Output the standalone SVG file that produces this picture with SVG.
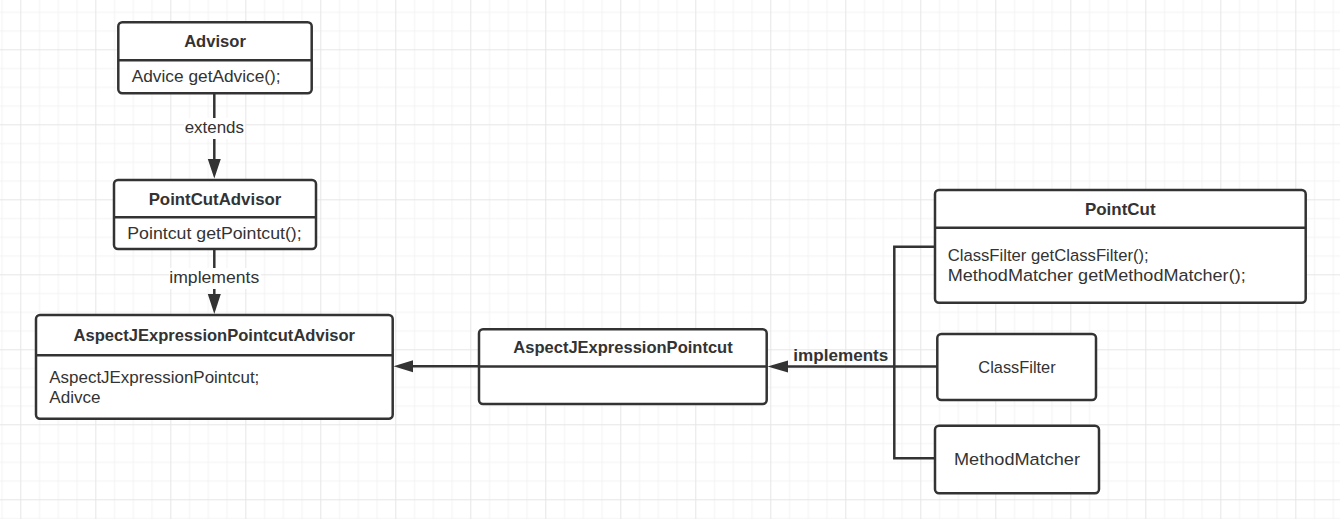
<svg xmlns="http://www.w3.org/2000/svg" width="1340" height="519" viewBox="0 0 1340 519">
<defs>
<pattern id="grid" patternUnits="userSpaceOnUse" width="75" height="75" patternTransform="translate(20.3,49.3)">
<rect x="0" y="0" width="75" height="75" fill="#ffffff"/>
<rect x="18.75" y="0" width="1" height="75" fill="#f3f3f3"/>
<rect x="37.5" y="0" width="1" height="75" fill="#f3f3f3"/>
<rect x="56.25" y="0" width="1" height="75" fill="#f3f3f3"/>
<rect x="0" y="18.75" width="75" height="1" fill="#f3f3f3"/>
<rect x="0" y="37.5" width="75" height="1" fill="#f3f3f3"/>
<rect x="0" y="56.25" width="75" height="1" fill="#f3f3f3"/>
<rect x="0" y="0" width="1" height="75" fill="#e6e6e6"/>
<rect x="0" y="0" width="75" height="1" fill="#e6e6e6"/>
</pattern>
</defs>
<style>
.box{fill:#ffffff;stroke:#333333;stroke-width:2.5}
.div{stroke:#333333;stroke-width:2.5;fill:none}
.title{font-family:"Liberation Sans",Arial,sans-serif;font-weight:bold;font-size:16.7px;fill:#333333;text-anchor:middle}
.body{font-family:"Liberation Sans",Arial,sans-serif;font-size:17.2px;fill:#333333}
.mid{text-anchor:middle}
.edge{stroke:#333333;stroke-width:2.5;fill:none}
.head{fill:#333333;stroke:none}
.lbl{font-family:"Liberation Sans",Arial,sans-serif;font-size:17px;fill:#333333;text-anchor:middle}
.lblb{font-family:"Liberation Sans",Arial,sans-serif;font-size:17px;font-weight:bold;fill:#333333}
</style>
<rect x="0" y="0" width="1340" height="519" fill="url(#grid)"/>

<g id="connectors">
<line class="edge" x1="214.3" y1="93.3" x2="214.3" y2="160"/>
<polygon class="head" points="214.3,178.5 207.8,159 220.8,159"/>
<rect x="184" y="118" width="61" height="21" fill="#ffffff"/>
<text class="lbl" x="214.3" y="133.3" textLength="59.3" lengthAdjust="spacingAndGlyphs">extends</text>

<line class="edge" x1="214.3" y1="249" x2="214.3" y2="295"/>
<polygon class="head" points="214.3,314 207.8,294 220.8,294"/>
<rect x="169" y="268" width="92" height="21" fill="#ffffff"/>
<text class="lbl" x="214.3" y="283.3" textLength="90" lengthAdjust="spacingAndGlyphs">implements</text>

<line class="edge" x1="479" y1="366.3" x2="412" y2="366.3"/>
<polygon class="head" points="393.5,366.3 413,360.3 413,372.3"/>

<line class="edge" x1="937" y1="366.5" x2="787" y2="366.5"/>
<polygon class="head" points="767.5,366.5 788,360.5 788,372.5"/>
<polyline class="edge" points="935,246.7 894.3,246.7 894.3,458.3 935,458.3"/>
<text class="lblb" x="793.3" y="361" textLength="95" lengthAdjust="spacingAndGlyphs">implements</text>
</g>

<g id="advisor">
<rect class="box" x="118.3" y="22.3" width="193.4" height="71" rx="4"/>
<line class="div" x1="118.3" y1="60.3" x2="311.7" y2="60.3"/>
<text class="title" x="215" y="47" textLength="61.7" lengthAdjust="spacingAndGlyphs">Advisor</text>
<text class="body" x="131.7" y="82.3" textLength="149" lengthAdjust="spacingAndGlyphs">Advice getAdvice();</text>
</g>

<g id="pointcutadvisor">
<rect class="box" x="114" y="180" width="202" height="69" rx="4"/>
<line class="div" x1="114" y1="217.3" x2="316" y2="217.3"/>
<text class="title" x="215" y="205" textLength="132.7" lengthAdjust="spacingAndGlyphs">PointCutAdvisor</text>
<text class="body" x="127.3" y="239" textLength="174.4" lengthAdjust="spacingAndGlyphs">Pointcut getPointcut();</text>
</g>

<g id="aspectjexpressionpointcutadvisor">
<rect class="box" x="36" y="315" width="356.7" height="103.7" rx="4"/>
<line class="div" x1="36" y1="355.3" x2="392.7" y2="355.3"/>
<text class="title" x="214.3" y="340.7" textLength="281.4" lengthAdjust="spacingAndGlyphs">AspectJExpressionPointcutAdvisor</text>
<text class="body" x="49.3" y="382.7" textLength="210" lengthAdjust="spacingAndGlyphs">AspectJExpressionPointcut;</text>
<text class="body" x="49.3" y="402.7" textLength="51.3" lengthAdjust="spacingAndGlyphs">Adivce</text>
</g>

<g id="aspectjexpressionpointcut">
<rect class="box" x="479" y="329.3" width="287.7" height="74.7" rx="4"/>
<line class="div" x1="479" y1="366.5" x2="766.7" y2="366.5"/>
<text class="title" x="623" y="353.3" textLength="219.4" lengthAdjust="spacingAndGlyphs">AspectJExpressionPointcut</text>
</g>

<g id="pointcut">
<rect class="box" x="935" y="190" width="370.7" height="112.7" rx="4"/>
<line class="div" x1="935" y1="227.7" x2="1305.7" y2="227.7"/>
<text class="title" x="1120.3" y="215" textLength="70.7" lengthAdjust="spacingAndGlyphs">PointCut</text>
<text class="body" x="947.7" y="261" textLength="201" lengthAdjust="spacingAndGlyphs">ClassFilter getClassFilter();</text>
<text class="body" x="947.7" y="281" textLength="298" lengthAdjust="spacingAndGlyphs">MethodMatcher getMethodMatcher();</text>
</g>

<g id="classfilter">
<rect class="box" x="937.3" y="334" width="158.7" height="66" rx="4"/>
<text class="body mid" x="1017" y="372.7" textLength="77.3" lengthAdjust="spacingAndGlyphs">ClassFilter</text>
</g>

<g id="methodmatcher">
<rect class="box" x="935" y="425.7" width="164" height="67.6" rx="4"/>
<text class="body mid" x="1017" y="465" textLength="126" lengthAdjust="spacingAndGlyphs">MethodMatcher</text>
</g>
</svg>
